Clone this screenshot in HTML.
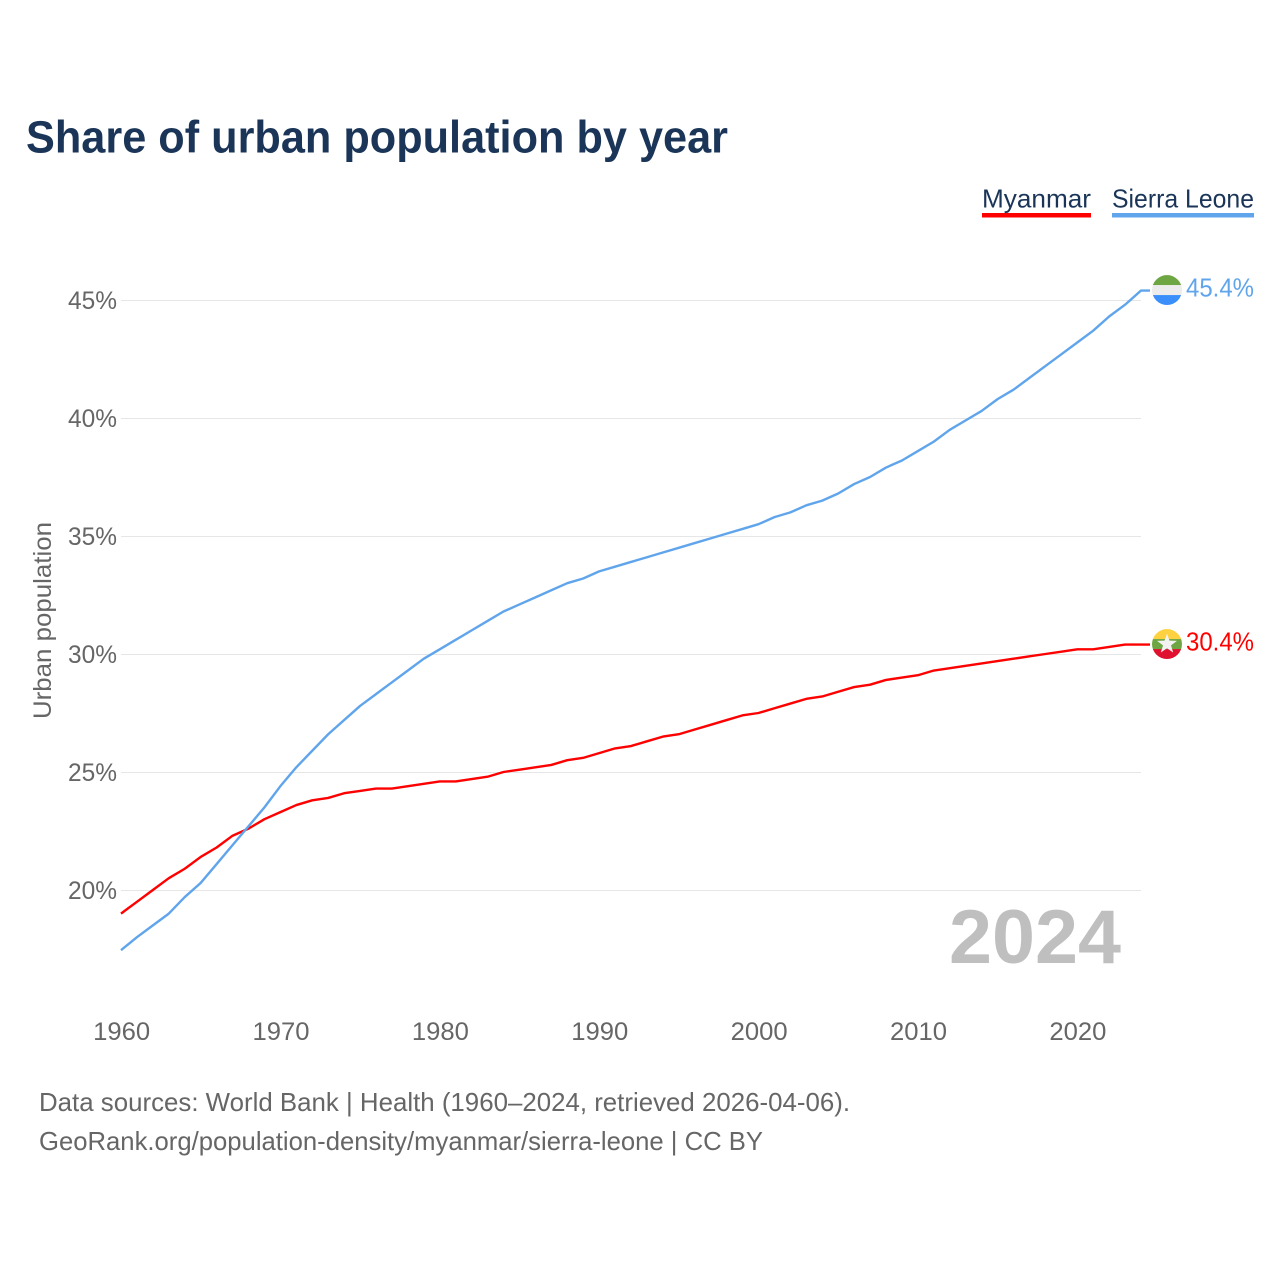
<!DOCTYPE html>
<html lang="en">
<head>
<meta charset="utf-8">
<title>Share of urban population by year</title>
<style>
html,body{margin:0;padding:0;background:#fff;}
svg{display:block;}
text{font-family:"Liberation Sans",Arial,sans-serif;}
</style>
</head>
<body>
<svg id="chart" xmlns="http://www.w3.org/2000/svg" width="1280" height="1280" viewBox="0 0 1280 1280">
  <defs></defs>
  <rect x="0" y="0" width="1280" height="1280" fill="#ffffff"></rect>
  <text x="26" y="152.5" font-size="45" font-weight="700" fill="#1a3557" textLength="702" lengthAdjust="spacingAndGlyphs">Share of urban population by year</text>

  <text x="982" y="207.5" font-size="26" fill="#1a3557" textLength="109" lengthAdjust="spacingAndGlyphs">Myanmar</text>
  <rect x="982" y="213" width="109" height="4.5" fill="#ff0000"></rect>
  <text x="1112" y="207.5" font-size="26" fill="#1a3557" textLength="142" lengthAdjust="spacingAndGlyphs">Sierra Leone</text>
  <rect x="1112" y="213" width="142" height="4.5" fill="#60a5ec"></rect>

  <g id="grid"></g>
  <g id="y-ticks"></g>
  <g id="x-ticks"></g>
  <text x="0" y="0" transform="translate(51 620.5) rotate(-90)" text-anchor="middle" font-size="25" fill="#666666" textLength="197" lengthAdjust="spacingAndGlyphs">Urban population</text>

  <g id="series" transform="translate(0 -0.5)"></g>
  <g id="end-markers"></g>

  <text x="949" y="963" font-size="76" font-weight="700" fill="#bfbfbf" textLength="172" lengthAdjust="spacingAndGlyphs">2024</text>

  <text x="39" y="1111" font-size="26" fill="#666666" textLength="811" lengthAdjust="spacingAndGlyphs">Data sources: World Bank | Health (1960–2024, retrieved 2026-04-06).</text>
  <text x="39" y="1150" font-size="26" fill="#666666" textLength="724" lengthAdjust="spacingAndGlyphs">GeoRank.org/population-density/myanmar/sierra-leone | CC BY</text>
</svg>
<script>
const startYear = 1960;
const myanmarValues = [19.0,19.5,20.0,20.5,20.9,21.4,21.8,22.3,22.6,23.0,23.3,23.6,23.8,23.9,24.1,24.2,24.3,24.3,24.4,24.5,24.6,24.6,24.7,24.8,25.0,25.1,25.2,25.3,25.5,25.6,25.8,26.0,26.1,26.3,26.5,26.6,26.8,27.0,27.2,27.4,27.5,27.7,27.9,28.1,28.2,28.4,28.6,28.7,28.9,29.0,29.1,29.3,29.4,29.5,29.6,29.7,29.8,29.9,30.0,30.1,30.2,30.2,30.3,30.4,30.4];
const sierraLeoneValues = [17.45,18.0,18.5,19.0,19.7,20.3,21.1,21.9,22.7,23.5,24.4,25.2,25.9,26.6,27.2,27.8,28.3,28.8,29.3,29.8,30.2,30.6,31.0,31.4,31.8,32.1,32.4,32.7,33.0,33.2,33.5,33.7,33.9,34.1,34.3,34.5,34.7,34.9,35.1,35.3,35.5,35.8,36.0,36.3,36.5,36.8,37.2,37.5,37.9,38.2,38.6,39.0,39.5,39.9,40.3,40.8,41.2,41.7,42.2,42.7,43.2,43.7,44.3,44.8,45.4];
const yTickValues = [20,25,30,35,40,45];
const xTickYears = [1960,1970,1980,1990,2000,2010,2020];

const NS = 'http://www.w3.org/2000/svg';
function xScale(year){ return 121 + (year - 1960) * (1141 - 121) / 64; }
function yScale(v){ return 890.5 - (v - 20) * (890.5 - 300.5) / 25; }
function make(tag, attrs, parent){
  const el = document.createElementNS(NS, tag);
  for (const k in attrs) el.setAttribute(k, attrs[k]);
  parent.appendChild(el);
  return el;
}

const gridG = document.getElementById('grid');
const yTickG = document.getElementById('y-ticks');
const xTickG = document.getElementById('x-ticks');
const seriesG = document.getElementById('series');
const markerG = document.getElementById('end-markers');

yTickValues.forEach(function(v){
  const y = yScale(v);
  const line = make('line', {x1:121, x2:1141, y1:y, y2:y, stroke:'#e6e6e6', 'stroke-width':1}, gridG);
  
  
  const t = make('text', {x:117, y:y + 8.5, 'text-anchor':'end', 'font-size':25, fill:'#666666', textLength:49, lengthAdjust:'spacingAndGlyphs'}, yTickG);
  
  
  t.textContent = v + '%';
});

xTickYears.forEach(function(year){
  const t = make('text', {x:xScale(year) + 0.7, y:1040, 'text-anchor':'middle', 'font-size':25, fill:'#666666', textLength:57, lengthAdjust:'spacingAndGlyphs'}, xTickG);
  
  
  t.textContent = year;
});

function drawSeries(values, color, lineName){
  const pts = values.map(function(v, i){ return xScale(startYear + i).toFixed(2) + ',' + yScale(v).toFixed(2); });
  const lastY = yScale(values[values.length - 1]);
  pts.push('1150,' + lastY.toFixed(2));
  const p = make('polyline', {points:pts.join(' '), fill:'none', stroke:color, 'stroke-width':2.4, 'stroke-linejoin':'round', 'stroke-linecap':'butt'}, seriesG);
  
  
}
drawSeries(myanmarValues, '#ff0000', 'myanmar-line');
drawSeries(sierraLeoneValues, '#60a5ec', 'sierra-leone-line');

function drawFlag(value, bands, flagName, labelName, color, hasStar){
  const cy = yScale(value) - 1;
  const cx = 1167, r = 15;
  const clipId = flagName + '-clip';
  const defs = document.querySelector('defs');
  const clip = make('clipPath', {id:clipId}, defs);
  make('circle', {cx:cx, cy:cy, r:r}, clip);
  const g = make('g', {'clip-path':'url(#' + clipId + ')'}, markerG);
  
  
  bands.forEach(function(c, i){
    make('rect', {x:cx - r, y:cy - r + i * 10, width:2 * r, height:10.2, fill:c}, g);
  });
  if (hasStar){
    const outer = 10.5, inner = 4.2, star = [];
    for (let i = 0; i < 10; i++){
      const rad = i % 2 === 0 ? outer : inner;
      const a = -Math.PI / 2 + i * Math.PI / 5;
      star.push((cx + rad * Math.cos(a)).toFixed(2) + ',' + (cy + rad * Math.sin(a)).toFixed(2));
    }
    make('polygon', {points:star.join(' '), fill:'#f2f2f2'}, g);
  }
  const t = make('text', {x:1186, y:cy + 6.5, 'font-size':26, fill:color, textLength:68, lengthAdjust:'spacingAndGlyphs'}, markerG);
  
  
  t.textContent = value.toFixed(1) + '%';
}
drawFlag(sierraLeoneValues[sierraLeoneValues.length - 1], ['#6ea644','#ececec','#3a8ffa'], 'sierra-leone-flag', 'sierra-leone-value-label', '#60a5ec', false);
drawFlag(myanmarValues[myanmarValues.length - 1], ['#fdd13f','#6ea644','#e0102f'], 'myanmar-flag', 'myanmar-value-label', '#ff0000', true);
</script>
</body>
</html>
